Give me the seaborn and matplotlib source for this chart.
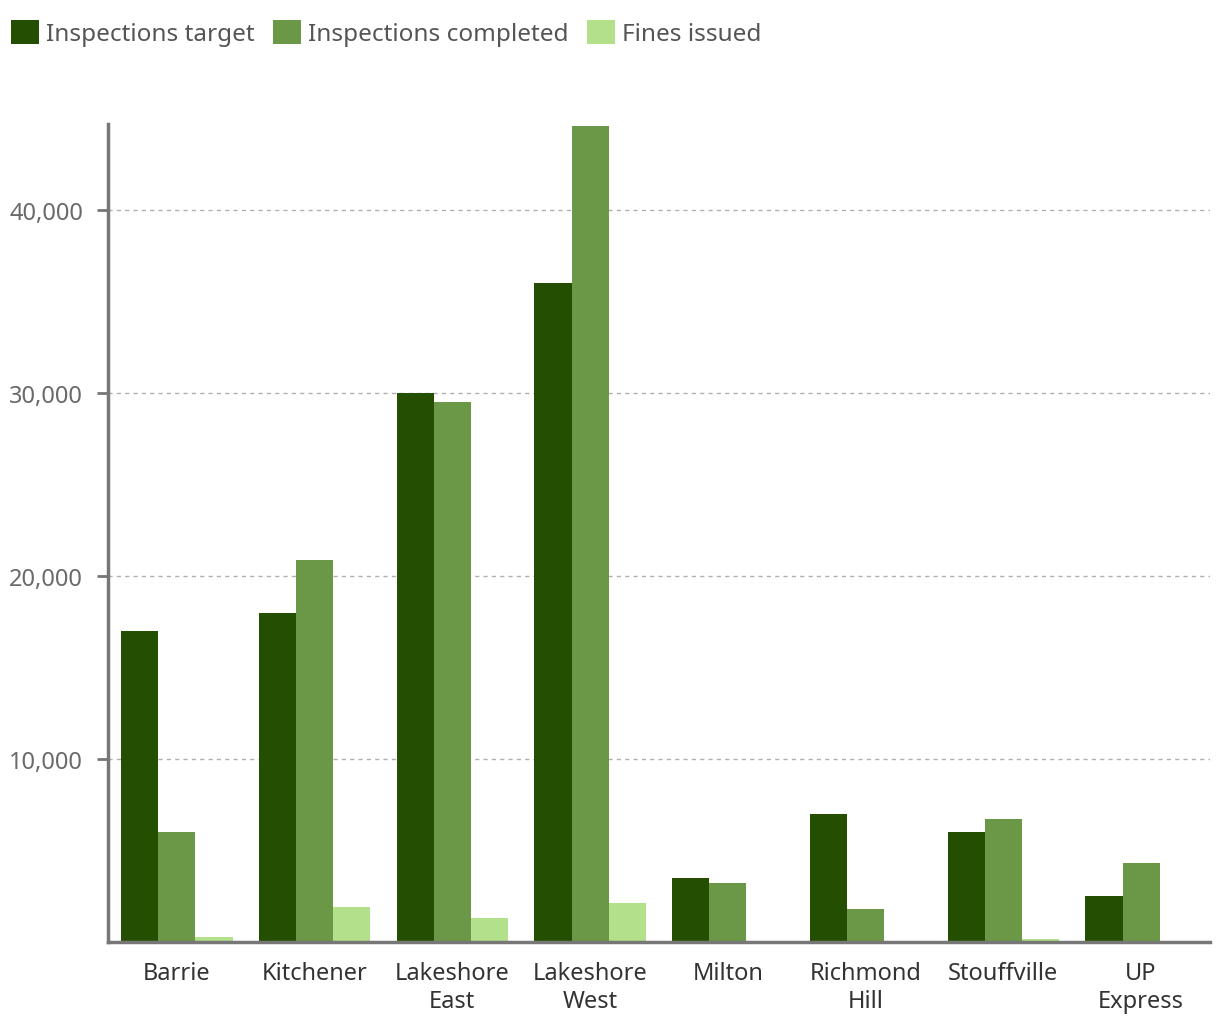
"""
Inspections and fines by rail line - grouped bar chart
"""

import pandas as pd
import matplotlib.pyplot as plt
import seaborn as sns
from matplotlib.ticker import FuncFormatter
from matplotlib.patches import Patch

sns.set_style("white")
plt.rcParams["font.family"] = ["Noto Sans", "DejaVu Sans"]

# ---------------------------------------------------
# Data
# ---------------------------------------------------
lines = ["Barrie", "Kitchener", "Lakeshore\nEast", "Lakeshore\nWest", "Milton",
         "Richmond\nHill", "Stouffville", "UP\nExpress"]
inspections_target = [17000, 18000, 30000, 36000, 3500, 7000, 6000, 2500]
inspections_completed = [6000, 20900, 29500, 44600, 3250, 1800, 6700, 4300]
fines_issued = [280, 1900, 1300, 2150, 0, 0, 180, 0]

series = ["Inspections target", "Inspections completed", "Fines issued"]
colors = ["#254f00", "#6a9846", "#b3e08b"]

df = pd.DataFrame({
    "line": lines * 3,
    "series": [series[0]] * 8 + [series[1]] * 8 + [series[2]] * 8,
    "value": inspections_target + inspections_completed + fines_issued,
})

# ---------------------------------------------------
# Plot
# ---------------------------------------------------
fig = plt.figure(figsize=(12.2, 10.2), dpi=100)
ax = fig.add_axes([0.0885, 0.0755, 0.9033, 0.802])

sns.barplot(data=df, x="line", y="value", hue="series", hue_order=series,
            palette=colors, width=0.81, gap=0, saturation=1, errorbar=None,
            linewidth=0, edgecolor="none", legend=False, ax=ax)

ax.set_xlim(-0.5, 7.5)
ax.set_ylim(0, 44700)
ax.set_yticks([10000, 20000, 30000, 40000])
ax.yaxis.set_major_formatter(FuncFormatter(lambda v, p: f"{int(v):,}"))
ax.set_xlabel("")
ax.set_ylabel("")

ax.grid(axis="y", linestyle=(0, (3, 3)), color="#b0b0b0", linewidth=1)
ax.set_axisbelow(True)

for side in ["top", "right"]:
    ax.spines[side].set_visible(False)
for side in ["left", "bottom"]:
    ax.spines[side].set_color("#777777")
    ax.spines[side].set_linewidth(2.5)

ax.tick_params(axis="y", left=True, length=8, width=2, color="#777777",
               labelsize=17, labelcolor="#6a6a6a", pad=10)
ax.tick_params(axis="x", bottom=False, labelsize=17, labelcolor="#333333", pad=10)
for lbl in ax.get_xticklabels():
    lbl.set_linespacing(1.25)

handles = [Patch(facecolor=c, edgecolor="none") for c in colors]
fig.legend(handles, series, loc="upper left", bbox_to_anchor=(0.0, 0.990),
           borderaxespad=0.0, borderpad=0.45,
           ncol=3, frameon=False, fontsize=17.5, handlelength=1.15,
           handleheight=1.15, handletextpad=0.3, columnspacing=0.75,
           labelcolor="#555555")

plt.savefig("out.png", dpi=100)
